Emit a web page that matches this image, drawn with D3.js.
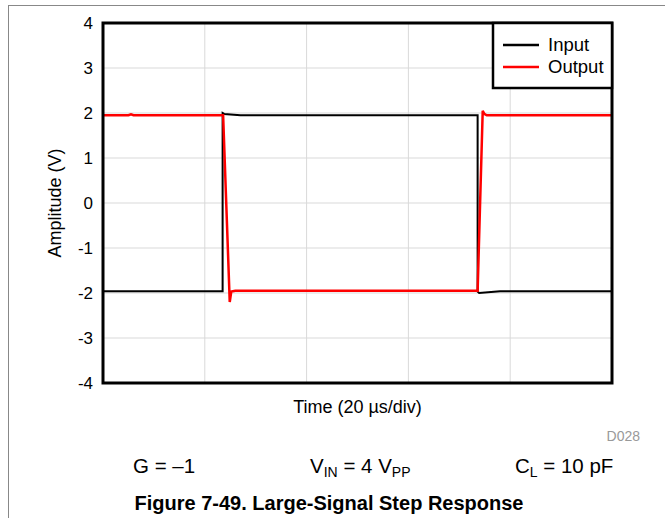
<!DOCTYPE html>
<html><head><meta charset="utf-8">
<script src="https://cdn.jsdelivr.net/npm/d3@7"></script>
<style>body{margin:0;background:#fff}svg{display:block;font-family:"Liberation Sans",Arial,sans-serif}</style>
</head><body><svg id="c" width="665" height="518"></svg>
<script>
const yTicks = [4, 3, 2, 1, 0, -1, -2, -3, -4];
const xGrid = [20, 40, 60, 80];
const inputT = [0, 23.5, 23.5, 23.8, 27, 73.6, 73.6, 73.9, 78, 100];
const inputV = [-1.96, -1.96, 2.0, 1.98, 1.95, 1.95, -1.97, -2.0, -1.96, -1.96];
const outputT = [0, 5, 5.5, 6, 23.6, 24.9, 25.2, 26, 73.6, 74.6, 74.9, 75.4, 100];
const outputV = [1.95, 1.95, 1.97, 1.95, 1.95, -2.2, -1.97, -1.95, -1.95, 2.05, 1.98, 1.95, 1.95];
const seriesNames = ["Input", "Output"];
const seriesColors = ["#000000", "#ff0000"];

const svg = d3.select("#c");
const L = 103, R = 612, T = 23, B = 383;
const x = d3.scaleLinear().domain([0, 100]).range([L, R]);
const y = d3.scaleLinear().domain([-4, 4]).range([B, T]);

// page border
svg.append("line").attr("x1", 8.5).attr("x2", 8.5).attr("y1", 5).attr("y2", 518).attr("stroke", "#888").attr("stroke-width", 1);
svg.append("line").attr("x1", 8.5).attr("x2", 665).attr("y1", 5.5).attr("y2", 5.5).attr("stroke", "#888").attr("stroke-width", 1);

// grid
svg.append("g").selectAll("line").data(yTicks.filter(d => d > -4 && d < 4)).join("line")
  .attr("x1", L).attr("x2", R).attr("y1", d => y(d)).attr("y2", d => y(d))
  .attr("stroke", "#d9d9d9").attr("stroke-width", 1);
svg.append("g").selectAll("line").data(xGrid).join("line")
  .attr("x1", d => x(d)).attr("x2", d => x(d)).attr("y1", T).attr("y2", B)
  .attr("stroke", "#d9d9d9").attr("stroke-width", 1);

// y axis labels
const ya = svg.append("g").attr("transform", `translate(${L},0)`)
  .call(d3.axisLeft(y).tickValues(yTicks).tickSize(0).tickPadding(10).tickFormat(d => String(d)));
ya.select(".domain").remove();
ya.selectAll("text").attr("font-size", 17).attr("font-family", "Liberation Sans, Arial, sans-serif").attr("fill", "#000");

// series
const line = d3.line().x(d => x(d[0])).y(d => y(d[1]));
const inData = inputT.map((t, i) => [t, inputV[i]]);
const outData = outputT.map((t, i) => [t, outputV[i]]);
svg.append("path").datum(inData).attr("d", line).attr("fill", "none").attr("stroke", seriesColors[0]).attr("stroke-width", 2);
svg.append("path").datum(outData).attr("d", line).attr("fill", "none").attr("stroke", seriesColors[1]).attr("stroke-width", 2.5);

// frame
svg.append("rect").attr("x", L).attr("y", T).attr("width", R - L).attr("height", B - T)
  .attr("fill", "none").attr("stroke", "#000").attr("stroke-width", 3);

// legend
const lg = svg.append("g");
lg.append("rect").attr("x", 493).attr("y", T).attr("width", R - 493).attr("height", 65)
  .attr("fill", "#fff").attr("stroke", "#000").attr("stroke-width", 2.5);
seriesNames.forEach((n, i) => {
  const yy = 45 + i * 22;
  lg.append("line").attr("x1", 503).attr("x2", 539).attr("y1", yy).attr("y2", yy)
    .attr("stroke", seriesColors[i]).attr("stroke-width", 2.5);
  lg.append("text").attr("x", 548).attr("y", yy + 6).attr("font-size", 18.5).text(n);
});

// axis titles
svg.append("text").attr("x", (L + R) / 2).attr("y", 413).attr("text-anchor", "middle").attr("font-size", 18).text("Time (20 µs/div)");
svg.append("text").attr("transform", `translate(61,${(T + B) / 2}) rotate(-90)`).attr("text-anchor", "middle").attr("font-size", 18).text("Amplitude (V)");

// id
svg.append("text").attr("x", 640).attr("y", 441).attr("text-anchor", "end").attr("font-size", 14).attr("fill", "#999").text("D028");

// conditions
const c1 = svg.append("text").attr("x", 133).attr("y", 473).attr("font-size", 20.5);
c1.text("G = –1");
const c2 = svg.append("text").attr("x", 310).attr("y", 473).attr("font-size", 20.5);
c2.append("tspan").text("V");
c2.append("tspan").attr("font-size", 14).attr("dy", 4).text("IN");
c2.append("tspan").attr("dy", -4).text(" = 4 V");
c2.append("tspan").attr("font-size", 14).attr("dy", 4).text("PP");
const c3 = svg.append("text").attr("x", 515).attr("y", 473).attr("font-size", 20.5);
c3.append("tspan").text("C");
c3.append("tspan").attr("font-size", 14).attr("dy", 4).text("L");
c3.append("tspan").attr("dy", -4).text(" = 10 pF");

svg.append("text").attr("x", 329).attr("y", 510).attr("text-anchor", "middle").attr("font-size", 20).attr("font-weight", "bold").text("Figure 7-49. Large-Signal Step Response");
</script></body></html>
